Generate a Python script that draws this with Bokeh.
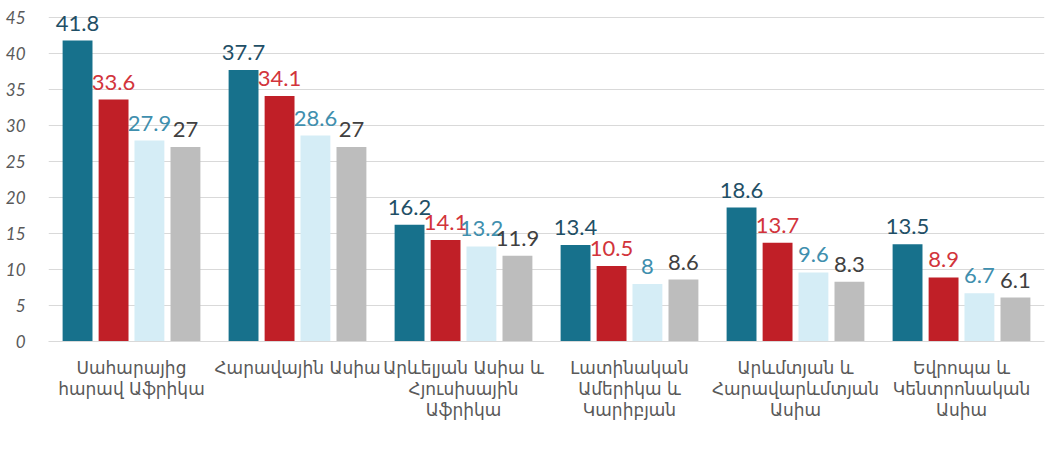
from bokeh.plotting import figure
from bokeh.models import (ColumnDataSource, FactorRange, Legend, LegendItem, FixedTicker,
                          CategoricalAxis, CategoricalTicker, CustomJSTickFormatter)
from bokeh.transform import dodge
from bokeh.core.properties import value
from bokeh.embed import file_html
from bokeh.resources import INLINE

category_lines = [
    ["Սահարայից", "հարավ Աֆրիկա"],
    ["Հարավային Ասիա"],
    ["Արևելյան Ասիա և", "Հյուսիսային", "Աֆրիկա"],
    ["Լատինական", "Ամերիկա և", "Կարիբյան"],
    ["Արևմտյան և", "Հարավարևմտյան", "Ասիա"],
    ["Եվրոպա և", "Կենտրոնական", "Ասիա"],
]
categories = [" ".join(c) for c in category_lines]
years = ["2000", "2008", "2015", "2023"]
v2000 = [41.8, 37.7, 16.2, 13.4, 18.6, 13.5]
v2008 = [33.6, 34.1, 14.1, 10.5, 13.7, 8.9]
v2015 = [27.9, 28.6, 13.2, 8, 9.6, 6.7]
v2023 = [27, 27, 11.9, 8.6, 8.3, 6.1]
y_ticks = [0, 5, 10, 15, 20, 25, 30, 35, 40, 45]

bar_colors = ["#17718c", "#c01f27", "#d5edf6", "#bdbdbd"]
label_colors = ["#1f4f66", "#d2343b", "#3f8fae", "#404040"]
offsets = [-0.325, -0.108, 0.108, 0.325]

series = [v2000, v2008, v2015, v2023]
data = dict(cat=categories)
for yr, vals in zip(years, series):
    data["v" + yr] = vals
    data["l" + yr] = [f"{v:g}" for v in vals]
src = ColumnDataSource(data)

p = figure(x_range=FactorRange(factors=categories, range_padding=0),
           y_range=(0, 47.36), frame_width=996, frame_height=341,
           output_backend="svg", toolbar_location=None,
           min_border_left=48, min_border_right=7, min_border_top=0, min_border_bottom=0)
p.outline_line_color = None
p.background_fill_color = "white"

items = []
for yr, off, bc, lc in zip(years, offsets, bar_colors, label_colors):
    r = p.vbar(x=dodge("cat", off, range=p.x_range), top="v" + yr, width=0.18,
               source=src, fill_color=bc, line_color=None)
    p.text(x=dodge("cat", off, range=p.x_range), y="v" + yr, text="l" + yr,
           source=src, text_align="center", text_baseline="bottom", y_offset=-10,
           text_font=value("Lato"), text_font_size="22px", text_color=lc)
    items.append(LegendItem(label=yr, renderers=[r]))

p.xgrid.grid_line_color = None
p.ygrid.grid_line_color = "#d9d9d9"
p.yaxis.ticker = FixedTicker(ticks=y_ticks)
p.yaxis.axis_line_color = None
p.yaxis.major_tick_line_color = None
p.yaxis.minor_tick_line_color = None
p.yaxis.major_label_text_font = "Lato"
p.yaxis.major_label_text_font_style = "italic"
p.yaxis.major_label_text_font_size = "17px"
p.yaxis.major_label_text_color = "#595959"
p.yaxis.major_label_standoff = 17


def style_xaxis(ax, standoff, k):
    lines = {c: (ls[k] if len(ls) > k else " ") for c, ls in zip(categories, category_lines)}
    ax.formatter = CustomJSTickFormatter(args=dict(lines=lines), code="return lines[tick];")
    ax.major_tick_line_color = None
    ax.minor_tick_line_color = None
    ax.major_label_text_font = "DejaVu Sans"
    ax.major_label_text_font_size = "17px"
    ax.major_label_text_color = "#595959"
    ax.major_label_standoff = standoff
    ax.major_label_orientation = "horizontal"


ax1 = p.xaxis[0]
style_xaxis(ax1, 10, 0)
ax1.axis_line_color = "#d9d9d9"
ax2 = CategoricalAxis(ticker=CategoricalTicker())
style_xaxis(ax2, -8, 1)
ax2.axis_line_color = None
p.add_layout(ax2, "below")
ax3 = CategoricalAxis(ticker=CategoricalTicker())
style_xaxis(ax3, -8, 2)
ax3.axis_line_color = None
p.add_layout(ax3, "below")

legend = Legend(items=items, orientation="horizontal", location="top_center",
                border_line_color=None, background_fill_alpha=0,
                label_text_font="Lato", label_text_font_size="23px",
                label_text_color="#595959", glyph_width=15, glyph_height=15,
                spacing=27, label_standoff=4, padding=0, margin=0)
p.add_layout(legend, "below")

open("out.html", "w").write(file_html(p, INLINE))
